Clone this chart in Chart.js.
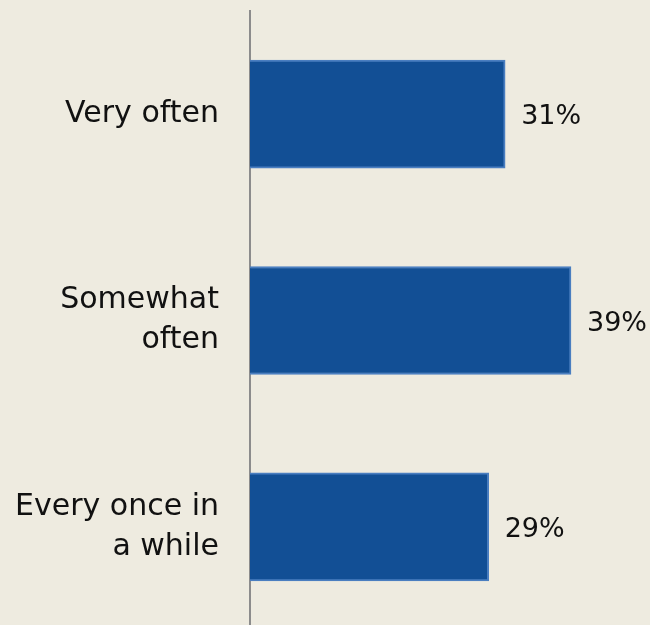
<!DOCTYPE html>
<html>
<head>
<meta charset="utf-8">
<script src="https://cdn.jsdelivr.net/npm/chart.js@4"></script>
<style>
  html, body { margin: 0; padding: 0; background: #eeebe0; overflow: hidden; }
  #wrap { width: 650px; height: 630px; }
</style>
</head>
<body>
<div id="wrap"><canvas id="bar-freq"></canvas></div>
<script>
// data
var categories = ['Very often', ['Somewhat', 'often'], ['Every once in', 'a while']];
var shares = [31, 39, 29];

var labelFont = '"DejaVu Sans", sans-serif';

// draws the "31%" style labels just right of each bar
var valueLabels = {
  id: 'valueLabels',
  afterDatasetsDraw: function (chart) {
    var ctx = chart.ctx;
    var meta = chart.getDatasetMeta(0);
    ctx.save();
    ctx.font = '27px ' + labelFont;
    ctx.fillStyle = '#111111';
    ctx.textAlign = 'left';
    ctx.textBaseline = 'middle';
    meta.data.forEach(function (bar, i) {
      ctx.fillText(shares[i] + '%', bar.x + 16, bar.y + 3);
    });
    ctx.restore();
  }
};

var barchart = document.getElementById('bar-freq');
var chart = new Chart(barchart, {
  type: 'bar',
  data: {
    labels: categories,
    datasets: [{
      data: shares,
      backgroundColor: '#124f95',
      borderColor: '#4a7ec0',
      borderWidth: 2,
      barThickness: 108
    }]
  },
  options: {
    indexAxis: 'y',
    responsive: true,
    maintainAspectRatio: false,
    animation: false,
    layout: { padding: { top: 11, right: 0, bottom: 0, left: 0 } },
    plugins: {
      legend: { display: false },
      tooltip: { enabled: false }
    },
    scales: {
      x: {
        display: false,
        min: 0,
        max: 48.6
      },
      y: {
        afterFit: function (scale) {
          scale.width = 250;
          scale.paddingTop = 0;
          scale.paddingBottom = 0;
        },
        grid: { display: false, drawTicks: false },
        border: { display: true, color: '#8c8c8c', width: 2 },
        ticks: {
          color: '#111111',
          padding: 31,
          font: { family: labelFont, size: 30, lineHeight: 1.33 }
        }
      }
    }
  },
  plugins: [valueLabels]
});
</script>
</body>
</html>
